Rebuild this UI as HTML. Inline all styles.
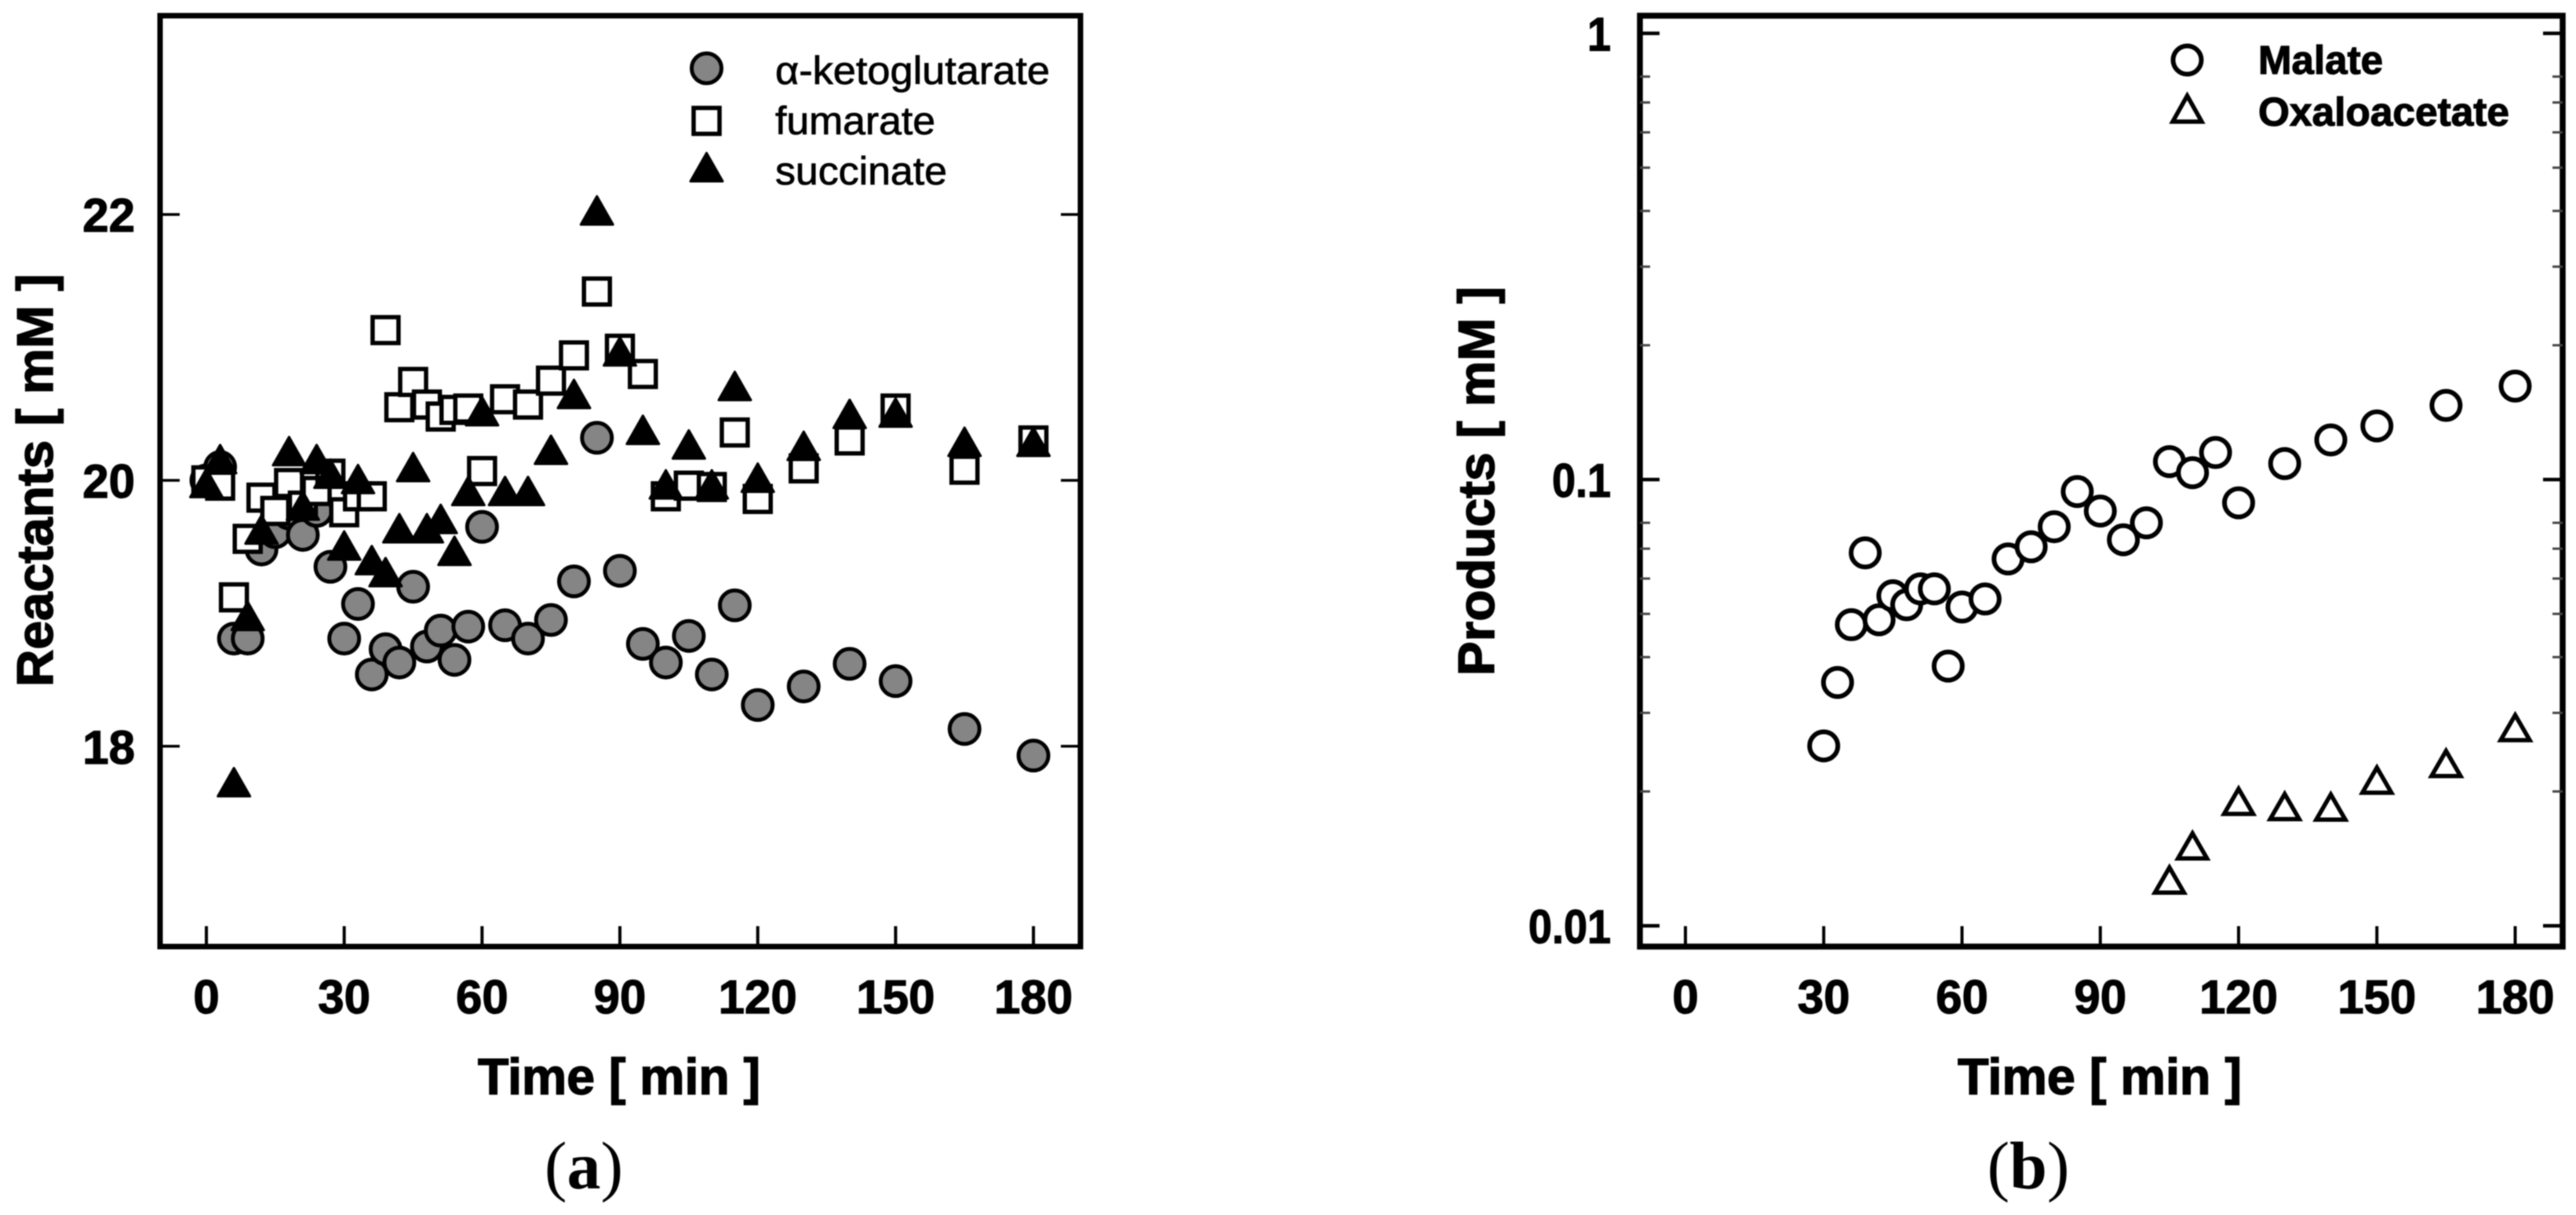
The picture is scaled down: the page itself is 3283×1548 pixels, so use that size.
<!DOCTYPE html>
<html lang="en">
<head>
<meta charset="utf-8">
<title>Reactants and products over time</title>
<style>
html,body{margin:0;padding:0;background:#fff;}
svg{display:block;filter:blur(0.8px);}
text{font-family:"Liberation Sans",Arial,sans-serif;fill:#000;}
.tick{font-size:60px;font-weight:bold;stroke:#000;stroke-width:1.2px;}
.title{font-size:65px;font-weight:bold;stroke:#000;stroke-width:1.5px;}
.legend-a{font-size:50px;stroke:#000;stroke-width:0.8px;}
.legend-b{font-size:51px;font-weight:bold;stroke:#000;stroke-width:1.2px;}
.cap{font-family:"Liberation Serif","Times New Roman",serif;font-size:86px;}
</style>
</head>
<body>
<svg id="figure" xmlns="http://www.w3.org/2000/svg" width="3283" height="1548" viewBox="0 0 3283 1548">
  <rect x="0" y="0" width="3283" height="1548" fill="#fff"/>

  <g id="panel-a">
    <rect x="204" y="20" width="1173" height="1186" fill="none" stroke="#000" stroke-width="7"/>
    <g id="a-ticks"></g>
    <g id="a-circles"></g>
    <g id="a-squares"></g>
    <g id="a-triangles"></g>
    <text class="title" x="789" y="1394" text-anchor="middle" textLength="360" lengthAdjust="spacingAndGlyphs">Time [ min ]</text>
    <text class="title" transform="translate(67,612) rotate(-90)" text-anchor="middle" textLength="526" lengthAdjust="spacingAndGlyphs">Reactants [ mM ]</text>
    <g>
      <circle cx="900.5" cy="87" r="19" fill="#858585" stroke="#000" stroke-width="5"/>
      <rect x="884" y="137.500" width="33" height="33" fill="#fff" stroke="#000" stroke-width="5.500"/>
      <polygon points="900.500,195 921,231 880,231" fill="#000" stroke="#000" stroke-width="3" stroke-linejoin="round"/>
      <text class="legend-a" x="988" y="107" textLength="350" lengthAdjust="spacingAndGlyphs">α-ketoglutarate</text>
      <text class="legend-a" x="988" y="171" textLength="204" lengthAdjust="spacingAndGlyphs">fumarate</text>
      <text class="legend-a" x="988" y="235" textLength="219" lengthAdjust="spacingAndGlyphs">succinate</text>
    </g>
    <text class="cap" x="744" y="1514" text-anchor="middle">(<tspan font-weight="bold">a</tspan>)</text>
  </g>

  <g id="panel-b">
    <rect x="2090" y="20" width="1176" height="1186" fill="none" stroke="#000" stroke-width="7.500"/>
    <g id="b-ticks"></g>
    <g id="b-circles"></g>
    <g id="b-triangles"></g>
    <text class="title" x="2676" y="1394" text-anchor="middle" textLength="362" lengthAdjust="spacingAndGlyphs">Time [ min ]</text>
    <text class="title" transform="translate(1904,613) rotate(-90)" text-anchor="middle" textLength="496" lengthAdjust="spacingAndGlyphs">Products [ mM ]</text>
    <g>
      <circle cx="2787.500" cy="76.500" r="18" fill="#fff" stroke="#000" stroke-width="6"/>
      <polygon points="2787.500,122 2806,155 2769,155" fill="#fff" stroke="#000" stroke-width="5.500" stroke-linejoin="miter"/>
      <text class="legend-b" x="2878" y="94" textLength="159" lengthAdjust="spacingAndGlyphs">Malate</text>
      <text class="legend-b" x="2878" y="160" textLength="320" lengthAdjust="spacingAndGlyphs">Oxaloacetate</text>
    </g>
    <text class="cap" x="2585" y="1514" text-anchor="middle">(<tspan font-weight="bold">b</tspan>)</text>
  </g>
</svg>

<script>
// ---- Panel (a) data ----
const reactantTimes = [0,3,6,9,12,15,18,21,24,27,30,33,36,39,42,45,48,51,54,57,60,65,70,75,80,85,90,95,100,105,110,115,120,130,140,150,165,180];
const ketoglutarate = [20.0,20.1,18.81,18.81,19.48,19.61,19.75,19.59,19.77,19.35,18.81,19.07,18.54,18.73,18.63,19.2,18.75,18.87,18.65,18.9,19.65,18.91,18.81,18.95,19.24,20.32,19.32,18.77,18.63,18.83,18.54,19.06,18.31,18.45,18.62,18.49,18.13,17.93];
const fumarate = [20.0,19.96,19.12,19.56,19.87,19.77,19.98,19.81,19.92,20.05,19.76,19.88,19.88,21.13,20.55,20.74,20.57,20.48,20.53,20.54,20.07,20.61,20.57,20.75,20.94,21.42,20.99,20.8,19.88,19.96,19.95,20.36,19.86,20.09,20.3,20.54,20.08,20.3];
const succinate = [19.98,20.16,17.73,18.98,19.63,null,20.22,19.81,20.16,20.05,19.51,20.01,19.4,19.31,19.64,20.1,19.64,19.71,19.47,19.92,20.52,19.92,19.92,20.23,20.65,22.03,20.97,20.38,19.97,20.27,19.97,20.71,20.02,20.26,20.5,20.51,20.29,20.29];
const xTickLabels = [0,30,60,90,120,150,180];
const reactantTickLabels = [18,20,22];

// ---- Panel (b) data ----
const malateTimes = [30,33,36,39,42,45,48,51,54,57,60,65,70,75,80,85,90,95,100,105,110,115,120,130,140,150,165,180];
const malate = [0.0253,0.0351,0.0473,0.0685,0.0485,0.0549,0.0524,0.0569,0.0569,0.0382,0.0518,0.054,0.0664,0.0707,0.0784,0.094,0.085,0.0733,0.08,0.1097,0.1036,0.115,0.0887,0.1086,0.1227,0.1319,0.1466,0.162];
const oxaloTimes = [105,110,120,130,140,150,165,180];
const oxaloacetate = [0.01266,0.0151,0.019,0.0185,0.01845,0.0212,0.0231,0.0278];
const productTickLabels = ["0.01","0.1","1"];
const productMinorTicks = [0.02,0.03,0.04,0.05,0.06,0.07,0.08,0.2,0.3,0.4,0.5,0.6,0.7,0.8];

// ---- Axis functions ----
function xA(t){ return 263 + 5.856 * t; }
function yA(v){ return 612 - 169.4 * (v - 20); }
function xB(t){ return 2148 + 5.875 * t; }
function yB(v){ return 611 - 568.5 * Math.log10(v / 0.1); }

const NS = 'http://www.w3.org/2000/svg';
function make(parentId, tag, attrs){
  const el = document.createElementNS(NS, tag);
  for (const k in attrs) el.setAttribute(k, attrs[k]);
  document.getElementById(parentId).appendChild(el);
  return el;
}
function triPoints(cx, cy, halfW, halfH){
  return (cx) + ',' + (cy - halfH) + ' ' + (cx + halfW) + ',' + (cy + halfH) + ' ' + (cx - halfW) + ',' + (cy + halfH);
}

// ---- Panel (a) ticks ----
xTickLabels.forEach(function(t){
  const tick = make('a-ticks', 'line', {x1:xA(t), x2:xA(t), y1:1206, y2:1180, stroke:'#000', 'stroke-width':4});
  
  
  const label = make('a-ticks', 'text', {x:xA(t), y:1291, 'text-anchor':'middle', class:'tick'});
  label.textContent = String(t);
  
  
});
reactantTickLabels.forEach(function(v){
  const left = make('a-ticks', 'line', {x1:204, x2:229, y1:yA(v), y2:yA(v), stroke:'#000', 'stroke-width':3.5});
  
  
  const right = make('a-ticks', 'line', {x1:1352, x2:1377, y1:yA(v), y2:yA(v), stroke:'#000', 'stroke-width':3.5});
  
  
  const label = make('a-ticks', 'text', {x:172, y:yA(v) + 22, 'text-anchor':'end', class:'tick'});
  label.textContent = String(v);
  
  
});

// ---- Panel (a) marks ----
reactantTimes.forEach(function(t, i){
  const c = make('a-circles', 'circle', {cx:xA(t), cy:yA(ketoglutarate[i]), r:19, fill:'#858585', stroke:'#000', 'stroke-width':5});
  
  
});
reactantTimes.forEach(function(t, i){
  const s = make('a-squares', 'rect', {x:xA(t) - 16.5, y:yA(fumarate[i]) - 16.5, width:33, height:33, fill:'#fff', stroke:'#000', 'stroke-width':5.5});
  
  
});
reactantTimes.forEach(function(t, i){
  if (succinate[i] === null) return;
  const p = make('a-triangles', 'polygon', {points:triPoints(xA(t), yA(succinate[i]), 20.5, 18), fill:'#000', stroke:'#000', 'stroke-width':3, 'stroke-linejoin':'round'});
  
  
});

// ---- Panel (b) ticks ----
xTickLabels.forEach(function(t){
  const tick = make('b-ticks', 'line', {x1:xB(t), x2:xB(t), y1:1206, y2:1180, stroke:'#000', 'stroke-width':4});
  
  
  const label = make('b-ticks', 'text', {x:xB(t), y:1291, 'text-anchor':'middle', class:'tick'});
  label.textContent = String(t);
  
  
});
productTickLabels.forEach(function(s){
  const v = parseFloat(s);
  const left = make('b-ticks', 'line', {x1:2090, x2:2115, y1:yB(v), y2:yB(v), stroke:'#000', 'stroke-width':4.5});
  
  
  const right = make('b-ticks', 'line', {x1:3241, x2:3266, y1:yB(v), y2:yB(v), stroke:'#000', 'stroke-width':4.5});
  
  
  const label = make('b-ticks', 'text', {transform:'translate(2053,' + (yB(v) + 22) + ') scale(0.9,1)', 'text-anchor':'end', class:'tick'});
  label.textContent = s;
  
  
});
productMinorTicks.forEach(function(v){
  const left = make('b-ticks', 'line', {x1:2090, x2:2103, y1:yB(v), y2:yB(v), stroke:'#444', 'stroke-width':3});
  
  
  const right = make('b-ticks', 'line', {x1:3253, x2:3266, y1:yB(v), y2:yB(v), stroke:'#444', 'stroke-width':3});
  
  
});

// ---- Panel (b) marks ----
malateTimes.forEach(function(t, i){
  const c = make('b-circles', 'circle', {cx:xB(t), cy:yB(malate[i]), r:18, fill:'#fff', stroke:'#000', 'stroke-width':6});
  
  
});
oxaloTimes.forEach(function(t, i){
  const p = make('b-triangles', 'polygon', {points:triPoints(xB(t), yB(oxaloacetate[i]), 18.5, 16), fill:'#fff', stroke:'#000', 'stroke-width':5.5});
  
  
});
</script>
</body>
</html>
